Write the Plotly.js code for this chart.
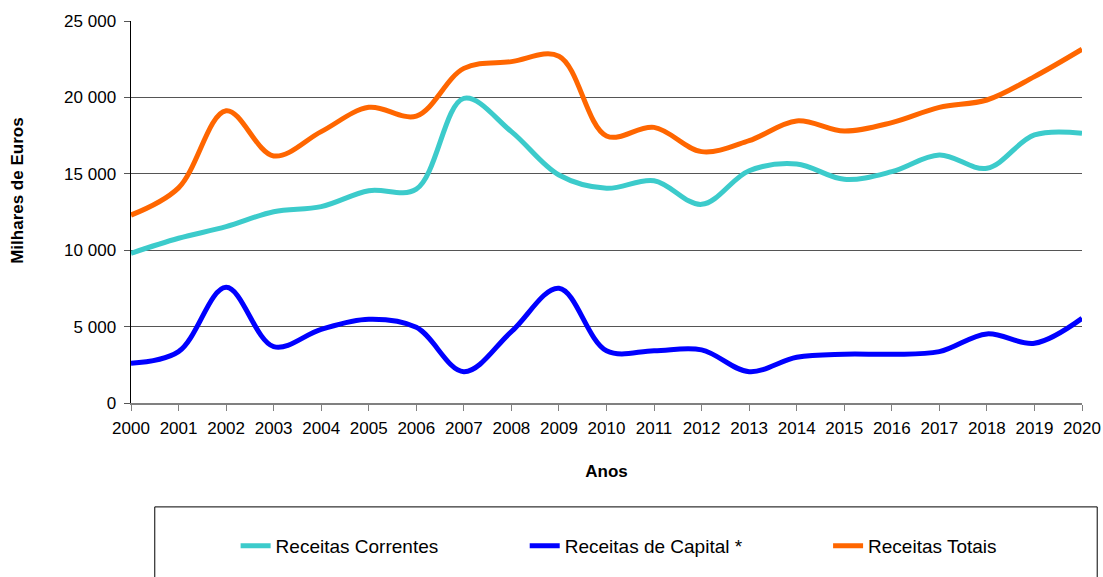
<!DOCTYPE html>
<html>
<head>
<meta charset="utf-8">
<script src="https://cdn.plot.ly/plotly-3.0.1.min.js"></script>
<style>body{margin:0;background:#fff}#chart{width:1103px;height:577px}</style>
</head>
<body>
<div id="chart"></div>
<script>
const years = [2000,2001,2002,2003,2004,2005,2006,2007,2008,2009,2010,2011,2012,2013,2014,2015,2016,2017,2018,2019,2020];
const receitasCorrentes = [9800,10780,11540,12520,12850,13890,14000,19940,17760,14920,14050,14550,13000,15200,15640,14640,15140,16230,15360,17540,17650];
const receitasCapital = [2600,3360,7570,3690,4820,5480,4950,2050,4670,7510,3420,3420,3480,2050,2990,3190,3190,3360,4520,3910,5540];
const receitasTotais = [12300,14080,19130,16170,17760,19350,18780,21900,22340,22700,17480,18040,16450,17170,18460,17800,18350,19350,19830,21360,23150];
const seriesNames = ["Receitas Correntes","Receitas de Capital *","Receitas Totais"];
const yTicks = [0,5000,10000,15000,20000,25000];

const font = "Liberation Sans, Arial, sans-serif";
function tr(y, name, color, lg){
  return {x: years, y: y, name: name, type: "scatter", mode: "lines", legend: lg, showlegend: true,
    line: {color: color, width: 5, shape: "spline", smoothing: 1}, hoverinfo: "x+y"};
}
const data = [
  tr(receitasCorrentes, seriesNames[0], "#3ccbcb", "legend"),
  tr(receitasCapital, seriesNames[1], "#0000ff", "legend2"),
  tr(receitasTotais, seriesNames[2], "#ff6600", "legend3")
];
function lg(x){
  return {orientation: "h", x: x, xanchor: "left", y: -0.374, yanchor: "middle", visible: true,
    font: {family: font, size: 19}, bgcolor: "rgba(0,0,0,0)", borderwidth: 0};
}
const layout = {
  width: 1103, height: 577,
  margin: {l: 131, r: 21, t: 21, b: 174},
  paper_bgcolor: "#fff", plot_bgcolor: "#fff",
  separators: ", ",
  showlegend: true,
  font: {family: font, size: 17, color: "#000"},
  xaxis: {
    range: [2000, 2020], tickmode: "array", tickvals: years, ticktext: years.map(String), tickangle: 0,
    showgrid: false, zeroline: false, showline: true, linecolor: "#808080", linewidth: 1.5,
    ticks: "outside", ticklen: 6, tickcolor: "#808080", tickwidth: 1,
    tickfont: {family: font, size: 17}, ticklabelstandoff: 3,
    title: {text: "<b>Anos</b>", font: {family: font, size: 17}, standoff: 28}
  },
  yaxis: {
    range: [0, 25000], tickmode: "array", tickvals: yTicks, tickformat: ",",
    showgrid: true, gridcolor: "#555", gridwidth: 1, zeroline: false,
    showline: true, linecolor: "#000", linewidth: 1.5,
    ticks: "outside", ticklen: 6, tickcolor: "#555", tickwidth: 1,
    tickfont: {family: font, size: 17}, ticklabelstandoff: 4
  },
  legend: lg(0.110),
  legend2: lg(0.414),
  legend3: lg(0.733),
  shapes: [{type: "rect", xref: "paper", yref: "paper", x0: 0.025, x1: 1.016, y0: -0.47, y1: -0.272,
    line: {color: "#000", width: 1}, fillcolor: "rgba(0,0,0,0)", layer: "below"}],
  annotations: [{text: "<b>Milhares de Euros</b>", xref: "paper", yref: "paper", x: -0.119, y: 0.555,
    textangle: -90, showarrow: false, font: {family: font, size: 17}, xanchor: "center", yanchor: "middle"}]
};
Plotly.newPlot("chart", data, layout, {displayModeBar: false, staticPlot: true});
</script>
</body>
</html>
